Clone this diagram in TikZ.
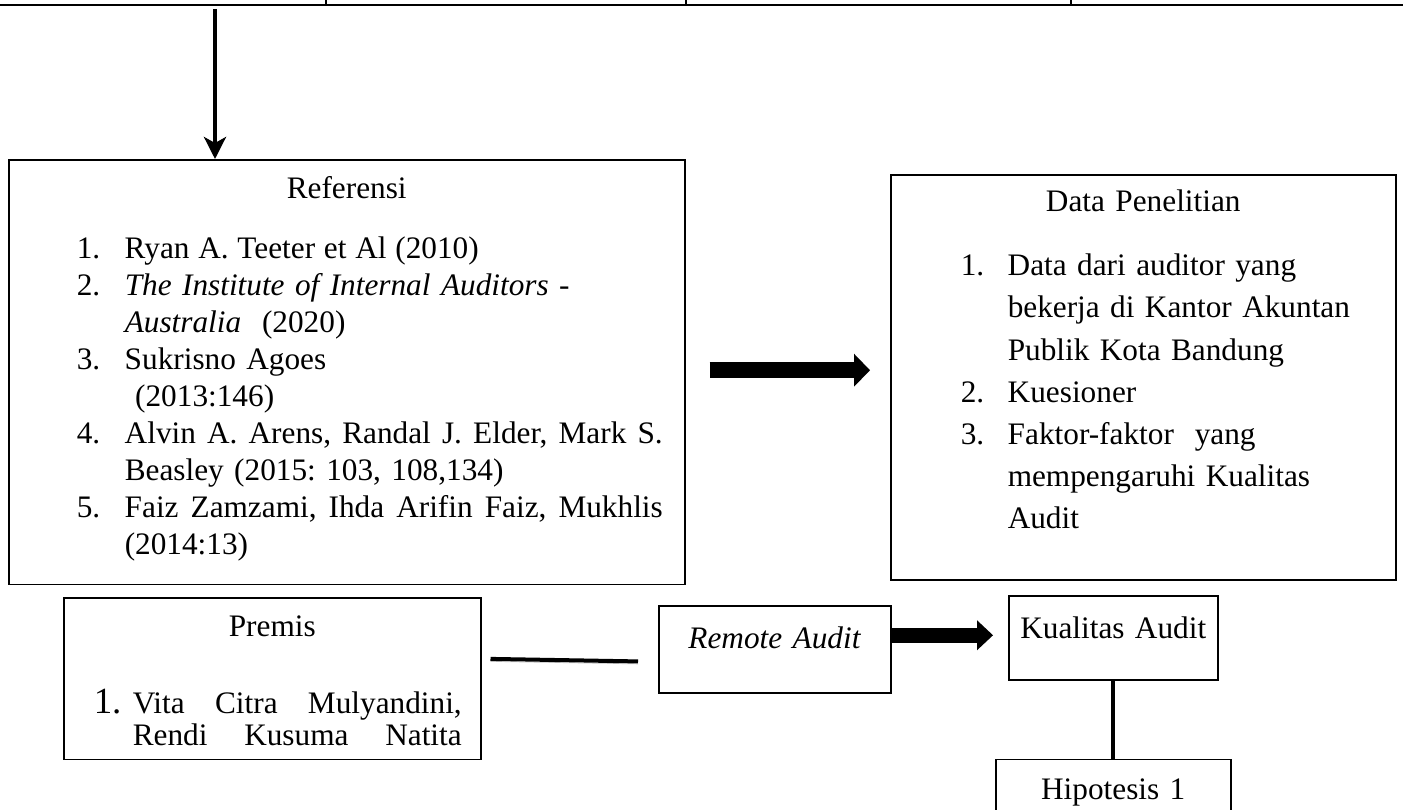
\documentclass[tikz,border=0pt]{standalone}
\usepackage{fontspec}
\setmainfont{Liberation Serif}
\usepackage{tikz}
\usetikzlibrary{positioning, arrows.meta, calc}

\setlength{\parindent}{0pt}
\frenchspacing
\newlength{\numind}
\newlength{\numw}
\newcommand{\lnum}[1]{\hspace*{\numind}\makebox[\numw][l]{#1}}
\newcommand{\lcont}{\hspace*{\numind}\hspace*{\numw}}
\newcommand{\jline}[2]{\makebox[#1][s]{\spaceskip=0.25em plus 1fil\relax #2}}

\begin{document}
\begin{tikzpicture}[
  box/.style={
    rectangle, draw, line width=0.03cm, inner sep=0pt, anchor=north west,
    font=\fontsize{17.8}{21.05}\selectfont
  },
  listbox/.style={box},
  labelbox/.style={box, align=center},
  blockarrow/.style 2 args={
    line width=#1, -{Triangle[length=0.32cm, width=#2, line width=0pt]}
  },
  link/.style={line width=0.08cm}
]

\useasboundingbox (0,0) rectangle (28.06,-16.18);

\coordinate (lineL) at (0,-0.096);
\coordinate (lineR) at (28.06,-0.096);
\draw[line width=0.05cm] (lineL) -- (lineR);
\foreach \x in {6.52, 13.72, 21.42}
  \draw[line width=0.025cm] (\x,0) -- (\x,-0.096);

\node[listbox, text width=13.52cm,
  execute at begin node={\setlength{\numind}{1.36cm}\setlength{\numw}{0.96cm}}]
  (ref) at (0.16,-3.18) {
  \makebox[\linewidth]{\rule{0pt}{0.78cm}Referensi}\par\vspace{0.46cm}
  \lnum{1.}\jline{7.08cm}{Ryan A. Teeter et Al (2010)}\par
  \lnum{2.}\textit{The Institute of Internal Auditors} -\par
  \lcont\textit{Australia}\ \ (2020)\par
  \lnum{3.}Sukrisno Agoes\par
  \lcont\ (2013:146)\par
  \lnum{4.}\jline{10.76cm}{Alvin A. Arens, Randal J. Elder, Mark S.}\par
  \lcont Beasley (2015: 103, 108,134)\par
  \lnum{5.}\jline{10.76cm}{Faiz Zamzami, Ihda Arifin Faiz, Mukhlis}\par
  \lcont(2014:13)\rule[-0.6cm]{0pt}{0pt}
};

\node[listbox, text width=10.1cm, font=\fontsize{17.8}{24}\selectfont,
  execute at begin node={\setlength{\numind}{1.4cm}\setlength{\numw}{0.94cm}}]
  (data) at (17.8,-3.48) {
  \makebox[\linewidth]{\rule{0pt}{0.74cm}Data Penelitian}\par\vspace{0.436cm}
  \lnum{1.}Data dari auditor yang\par
  \lcont bekerja di Kantor Akuntan\par
  \lcont Publik Kota Bandung\par
  \lnum{2.}Kuesioner\par
  \lnum{3.}Faktor-faktor\ \ yang\par
  \lcont mempengaruhi Kualitas\par
  \lcont Audit\rule[-1.02cm]{0pt}{0pt}
};

\node[listbox, text width=8.34cm, font=\fontsize{17.8}{18.2}\selectfont,
  execute at begin node={\setlength{\numind}{0.6cm}\setlength{\numw}{0.78cm}}]
  (premis) at (1.26,-11.94) {
  \makebox[\linewidth]{\rule{0pt}{0.78cm}Premis}\par\vspace{0.9cm}
  \lnum{\fontsize{21}{18.2}\selectfont 1.}\jline{6.58cm}{Vita Citra Mulyandini,}\par
  \lcont\jline{6.58cm}{Rendi Kusuma Natita}\rule[-0.28cm]{0pt}{0pt}
};

\node[labelbox, text width=4.64cm] (remote) at (13.16,-12.1)
  {\rule{0pt}{0.86cm}\textit{Remote Audit}\rule[-0.88cm]{0pt}{0pt}};

\node[labelbox, text width=4.18cm] (kual) at (20.16,-11.9)
  {\rule{0pt}{0.86cm}Kualitas Audit\rule[-0.82cm]{0pt}{0pt}};

\node[labelbox, text width=4.7cm, below=1.56cm of kual] (hipo)
  {\rule{0pt}{0.8cm}Hipotesis 1\rule[-1.0cm]{0pt}{0pt}};

\coordinate (src) at (4.3,-0.18);
\draw[line width=0.09cm, -{Stealth[length=0.44cm, width=0.44cm, inset=0.12cm]}]
  (src) -- (src |- ref.north);

\draw[blockarrow={0.32cm}{0.66cm}, shorten <=0.48cm, shorten >=0.4cm]
  ([yshift=0.04cm]ref.east) -- ([yshift=0.04cm]ref.east -| data.west);

\draw[link, preaction={draw=black!25, transform canvas={yshift=-0.05cm}},
  shorten <=0.18cm, shorten >=0.4cm]
  ([yshift=0.4cm]premis.east) -- ([yshift=-0.25cm]remote.west);

\draw[blockarrow={0.3cm}{0.6cm}, shorten >=0.3cm]
  ([yshift=0.28cm]remote.east) -- ([yshift=0.28cm]remote.east -| kual.west);

\draw[link] (kual) -- (hipo);

\end{tikzpicture}
\end{document}
